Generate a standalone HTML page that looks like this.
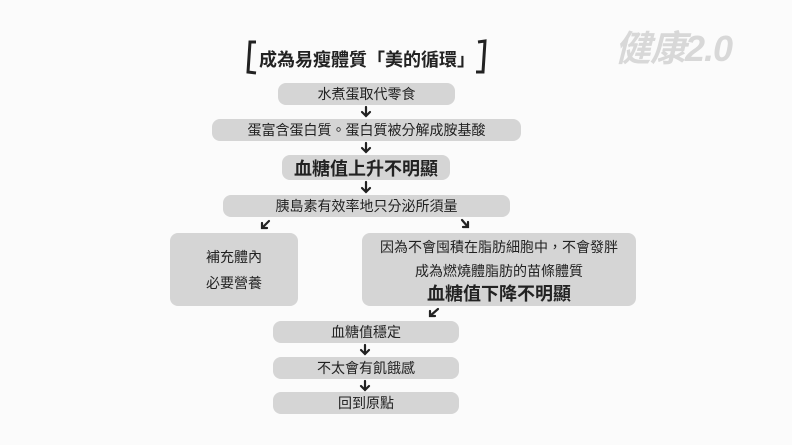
<!DOCTYPE html>
<html><head><meta charset="utf-8"><style>
body{margin:0;width:792px;height:445px;background:#fbfbfb;position:relative;overflow:hidden;font-family:"Liberation Sans","Noto Sans CJK TC",sans-serif;color:#222}
.b{position:absolute;background:#d5d5d5;border-radius:8px;display:flex;align-items:center;justify-content:center;font-size:14px;text-align:center}
</style></head><body>
<div style="position:absolute;left:242px;top:38px;width:250px;height:38px">
<svg width="250" height="38" style="position:absolute;left:0;top:0"><path d="M14 4 L8 4 L6 34 L14 35" fill="none" stroke="#222" stroke-width="3"/><path d="M236 4 L243 3 L241 34 L234 34" fill="none" stroke="#222" stroke-width="3"/></svg>
<div style="position:absolute;left:0;width:250px;top:8px;text-align:center;font-size:18px;font-weight:bold">成為易瘦體質「美的循環」</div></div>
<div style="position:absolute;left:615px;top:20px;font-size:36px;font-style:italic;font-weight:bold;color:#d8d8d8;letter-spacing:-1px">健康2.0</div>
<svg width="792" height="445" style="position:absolute;left:0;top:0" fill="none" stroke="#222" stroke-width="2.2" stroke-linecap="round">
<g id="d"><path d="M366 107 L366 116 M362 112 L366 116 L370 112"/></g>
<path d="M366 143 L366 152 M362 148 L366 152 L370 148"/>
<path d="M366 182 L366 192 M362 188 L366 192 L370 188"/>
<path d="M269 221 L262 228 M262 223 L262 228 L267 228"/>
<path d="M462 220 L468 227 M468 222 L468 227 L463 227"/>
<path d="M438 309 L430 316 M430 311 L430 316 L435 316"/>
<path d="M365 345 L365 354 M361 350 L365 354 L369 350"/>
<path d="M365 381 L365 390 M361 386 L365 390 L369 386"/>
</svg>
<div class="b" style="left:278px;top:83px;width:177px;height:22px">水煮蛋取代零食</div>
<div class="b" style="left:212px;top:119px;width:309px;height:22px">蛋富含蛋白質。蛋白質被分解成胺基酸</div>
<div class="b" style="left:282px;top:155px;width:168px;height:25px;font-size:18px;font-weight:bold">血糖值上升不明顯</div>
<div class="b" style="left:223px;top:195px;width:287px;height:22px">胰島素有效率地只分泌所須量</div>
<div class="b" style="left:170px;top:233px;width:128px;height:73px;line-height:26px">補充體內<br>必要營養</div>
<div class="b" style="left:362px;top:233px;width:274px;height:73px;flex-direction:column;line-height:24px"><div>因為不會囤積在脂肪細胞中，不會發胖</div><div>成為燃燒體脂肪的苗條體質</div><div style="font-size:18px;font-weight:bold;line-height:22px">血糖值下降不明顯</div></div>
<div class="b" style="left:273px;top:321px;width:186px;height:22px">血糖值穩定</div>
<div class="b" style="left:273px;top:357px;width:186px;height:22px">不太會有飢餓感</div>
<div class="b" style="left:273px;top:392px;width:186px;height:22px">回到原點</div>
</body></html>
